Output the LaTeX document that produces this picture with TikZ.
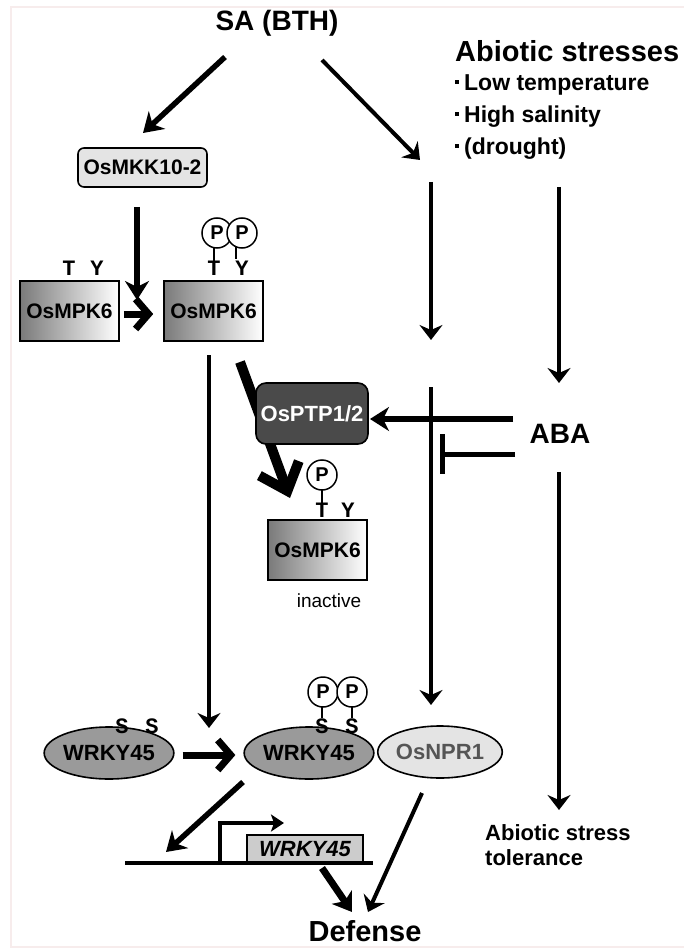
\documentclass[tikz,border=0pt]{standalone}
\usepackage{fontspec}
\setmainfont{Liberation Sans}
\newfontfamily\courfont{Liberation Mono}
\usetikzlibrary{arrows.meta,calc,shapes.geometric}
\definecolor{framec}{HTML}{F7ECEC}
\definecolor{mkkc}{HTML}{E4E4E4}
\definecolor{ptpc}{HTML}{4A4A4A}
\definecolor{wrc}{HTML}{9A9A9A}
\definecolor{nprc}{HTML}{E4E4E4}
\definecolor{nprt}{HTML}{555555}
\definecolor{genec}{HTML}{CCCCCC}
\definecolor{gradl}{HTML}{7A7A7A}
\newcommand{\sqbul}{\raisebox{0.27em}{\rule{0.17em}{0.17em}}\hspace{0.22em}}
\tikzset{
  big/.style={font=\fontsize{28}{32}\selectfont\bfseries, inner sep=0pt},
  kinase/.style={draw, line width=1.6pt, minimum width=99pt, minimum height=60pt, inner sep=0pt,
    left color=gradl, right color=white, font=\fontsize{21}{24}\selectfont\bfseries},
  mkkbox/.style={draw, line width=1.6pt, rounded corners=6pt, fill=mkkc, minimum width=129pt,
    minimum height=39pt, inner sep=0pt, font=\fontsize{21}{24}\selectfont\bfseries},
  ptpbox/.style={draw, line width=1.6pt, rounded corners=10pt, fill=ptpc, text=white, minimum width=112pt,
    minimum height=61pt, inner sep=0pt, font=\fontsize{22}{24}\selectfont\bfseries},
  wrell/.style={draw, ellipse, line width=1.6pt, fill=wrc, minimum width=128pt, minimum height=52pt,
    inner sep=0pt, font=\fontsize{22}{24}\selectfont\bfseries},
  nprell/.style={draw, ellipse, line width=1.6pt, fill=nprc, text=nprt, minimum width=124pt, minimum height=52pt,
    inner sep=0pt, font=\fontsize{22}{24}\selectfont\bfseries},
  genebox/.style={draw, line width=1.6pt, fill=genec, minimum width=116pt, minimum height=28pt, inner sep=0pt,
    font=\fontsize{22}{24}\selectfont\bfseries\itshape},
  pcirc/.style={draw, circle, line width=1.5pt, fill=white, minimum size=30pt, inner sep=0pt,
    font=\fontsize{20}{22}\selectfont\bfseries},
  res/.style={font=\courfont\fontsize{22}{24}\selectfont\bfseries, inner sep=0pt},
  stem/.style={line width=2pt},
  thin/.style={line width=4pt, -{Stealth[length=15pt,width=23pt,inset=5pt]}},
  thick/.style={line width=5.5pt, -{Stealth[length=19pt,width=24pt,inset=6pt]}},
  barb/.style={line width=7pt, -{Straight Barb[length=13pt,width=30pt]}},
  hugebarb/.style={line width=10pt, -{Straight Barb[length=24pt,width=42pt]}},
}
\begin{document}
\begin{tikzpicture}[x=1pt,y=-1pt]
\useasboundingbox (0,0) rectangle (684,949);
% faint frame
\draw[framec, line width=1.5pt] (700,7) -- (11,7) -- (11,947) -- (700,947);

% texts
\node[big] (sa) at (277,23) {SA (BTH)};
\node[anchor=west, inner sep=0pt, font=\fontsize{29}{32}\selectfont\bfseries] (abio) at (455,51) {Abiotic stresses};
\node[anchor=north west, inner sep=0pt, align=left, font=\fontsize{23}{32}\selectfont\bfseries] (list) at (455,74)
  {\sqbul Low temperature\\ \sqbul High salinity\\ \sqbul (drought)};
\node[big] (aba) at (560,434) {ABA};
\node[anchor=north west, inner sep=0pt, align=left, font=\fontsize{22}{25}\selectfont\bfseries] (tol) at (485,824)
  {Abiotic stress\\tolerance};
\node[inner sep=0pt, font=\fontsize{29}{32}\selectfont\bfseries] (def) at (365,931) {Defense};

% kinases
\node[mkkbox] (mkk) at (142.5,167.5) {OsMKK10-2};
\node[kinase] (mpkA) at (69.5,311) {OsMPK6};
\node[kinase] (mpkB) at (213.5,311) {OsMPK6};
\node[kinase] (mpkC) at (317.5,550) {OsMPK6};
\node[inner sep=0pt, font=\fontsize{19}{22}\selectfont] (inact) at (329,601) {inactive};

% residues on mpkA
\node[res] (tA) at (69,268) {T};
\node[res] (yA) at (97,268) {Y};
% residues and phosphates on mpkB
\node[res] (tB) at (214,268) {T};
\node[res] (yB) at (242,268) {Y};
\draw[stem] (214,246) -- (tB.north);
\draw[stem] (236,246) -- (236,259);
\node[pcirc] (pB1) at (217,233) {P};
\node[pcirc] (pB2) at (242,233) {P};
% residues and phosphate on mpkC
\node[res] (tC) at (322,510) {T};
\node[res] (yC) at (348,510) {Y};
\draw[stem] (322,488) -- (tC.north);
\node[pcirc] (pC) at (322,475) {P};

% WRKY45 / NPR1
\node[wrell] (wrA) at (109,753) {WRKY45};
\node[wrell] (wrB) at (309,753) {WRKY45};
\node[nprell] (npr) at (440,752) {OsNPR1};
\node[res] (sA1) at (122,726) {S};
\node[res] (sA2) at (152,726) {S};
\node[res] (sB1) at (322,726) {S};
\node[res] (sB2) at (352,726) {S};
\draw[stem] (322,706) -- (sB1.north);
\draw[stem] (352,706) -- (sB2.north);
\node[pcirc] (pW1) at (323,692) {P};
\node[pcirc] (pW2) at (352,692) {P};

% gene
\node[genebox] (gene) at (305,849) {WRKY45};
\coordinate (gl) at (125,863);
\coordinate (gr) at (373,863);
\draw[line width=4pt] (gl) -- (gr);
\coordinate (prb) at (220,863);
\coordinate (prt) at (220,823);
\coordinate (pre) at (284,823);
\draw[line width=3.2pt, -{Stealth[length=13pt,width=17pt,inset=3pt]}] (prb) -- (prt) -- (pre);

% coordinates for connectors
\coordinate (c1) at (225,57);
\coordinate (c1e) at (143,133);
\coordinate (c2) at (322,60);
\coordinate (c2e) at (420,160);
\coordinate (c3) at (137,207);
\coordinate (c3e) at (137,300);
\coordinate (c5) at (209,355);
\coordinate (c5e) at (209,728);
\coordinate (c6) at (240,362);
\coordinate (c6e) at (290,498);
\coordinate (c7) at (513,419);
\coordinate (c7e) at (370,419);
\coordinate (m1) at (431,182);
\coordinate (m1e) at (431,340);
\coordinate (m2) at (431,387);
\coordinate (m2e) at (431,705);
\coordinate (ib) at (515,454);
\coordinate (ibe) at (443,454);
\coordinate (r1) at (559,187);
\coordinate (r1e) at (559,383);
\coordinate (r2) at (559,472);
\coordinate (r2e) at (559,810);
\coordinate (w1) at (243,782);
\coordinate (w1e) at (166,852);
\coordinate (g1) at (322,868);
\coordinate (g1e) at (352,912);
\coordinate (n1) at (422,793);
\coordinate (n1e) at (368,912);

% connectors
\draw[thick] (c1) -- (c1e);
\draw[thin] (c2) -- (c2e);
\draw[thick] (c3) -- (c3e);
\draw[barb] ($(mpkA.east)+(4,3)$) -- ($(mpkB.west)+(-10,3)$);
\draw[thin] (c5) -- (c5e);
\draw[hugebarb] (c6) -- (c6e);
\node[ptpbox] (ptp) at (312,413.5) {OsPTP1/2};
\draw[thick] (c7) -- (c7e);
\draw[thin] (m1) -- (m1e);
\draw[thin] (m2) -- (m2e);
\draw[line width=5pt] (ib) -- (ibe);
\draw[line width=5pt] (442,434) -- (442,474);
\draw[thin] (r1) -- (r1e);
\draw[thin] (r2) -- (r2e);
\draw[barb] ($(wrA.east)+(8,2)$) -- ($(wrB.west)+(-8,2)$);
\draw[thick] (w1) -- (w1e);
\draw[line width=7pt, -{Stealth[length=18pt,width=24pt,inset=5pt]}] (g1) -- (g1e);
\draw[thin] (n1) -- (n1e);
\end{tikzpicture}
\end{document}
